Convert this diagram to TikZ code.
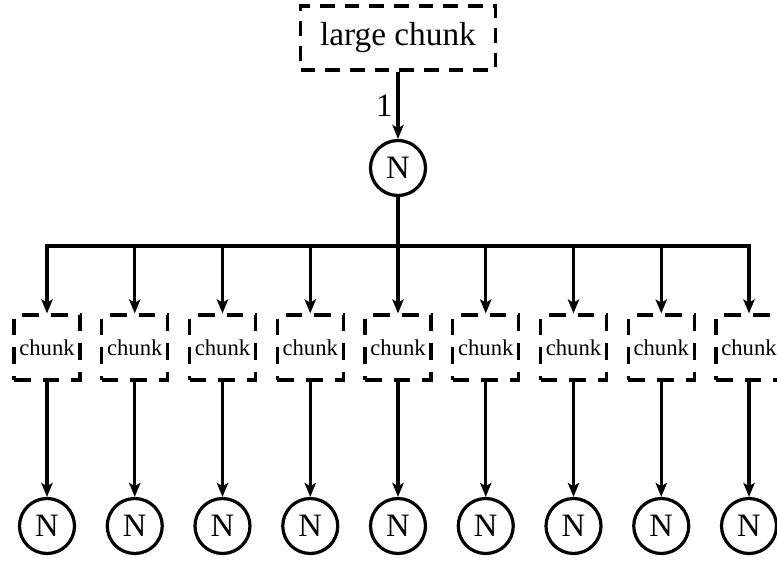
\documentclass[tikz,border=0pt]{standalone}
\usepackage{fontspec}
\setmainfont{Liberation Serif}
\usetikzlibrary{arrows.meta}
\begin{document}
\begin{tikzpicture}[x=0.75pt,y=-0.75pt,
  line width=2.4pt,
  bigbox/.style={draw, dash pattern=on 11pt off 7.5pt, minimum width=146pt,
    minimum height=48pt, inner sep=0pt, font=\fontsize{25}{28}\selectfont},
  chunkbox/.style={draw, dash pattern=on 12.5pt off 9pt, minimum width=49.5pt,
    minimum height=48.75pt, inner sep=0pt, font=\fontsize{17}{19}\selectfont},
  nnode/.style={draw, circle, minimum size=41.25pt, inner sep=0pt,
    font=\fontsize{24.5}{28}\selectfont},
  arr/.style={-{Stealth[length=10.5pt,width=8.5pt,inset=2.5pt]}},
  lbl/.style={font=\fontsize{24.5}{28}\selectfont, inner sep=3pt}
]
\useasboundingbox (0,0) rectangle (777,560);

% root chunk and its node
\node[bigbox] (top) at (398,38) {large chunk};
\node[nnode] (n) at (398,168) {N};
\draw[arr] (top) -- node[left, lbl] {1} (n);

% fan-out bus, chunks and their nodes
\foreach \i in {0,...,8} {
  \pgfmathsetmacro{\xx}{47+87.75*\i}
  \coordinate (b\i) at (\xx,246);
  \node[chunkbox] (c\i) at (\xx,347.5) {chunk};
  \node[nnode] (n\i) at (\xx,526) {N};
}
\draw[line cap=rect] (b0) -- (b8);
\draw (n) -- (b4);
\foreach \i in {0,...,8} {
  \draw[arr] (b\i) -- (c\i);
  \draw[arr] (c\i) -- (n\i);
}
\end{tikzpicture}
\end{document}
